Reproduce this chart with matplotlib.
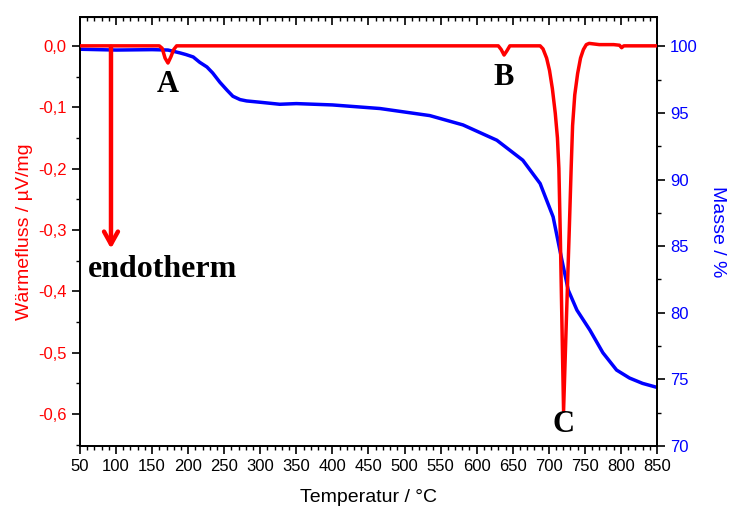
import matplotlib.pyplot as plt
from matplotlib.ticker import MultipleLocator, FuncFormatter

# DSC signal (heat flow, µV/mg) vs temperature
temp_dsc = [50, 160, 164, 168, 172, 176, 180, 184,
            630, 634, 638, 642, 646,
            688, 692, 697, 701, 705, 709, 712, 714, 716, 718.2, 720.5,
            724.3, 728.4, 731, 733, 736, 740, 744, 748, 752, 756,
            770, 790, 798, 801, 804, 820, 850]
heat_flow = [0.0, 0.0, -0.004, -0.02, -0.028, -0.018, -0.006, 0.0,
             0.0, -0.006, -0.015, -0.008, 0.0,
             0.0, -0.005, -0.02, -0.04, -0.07, -0.11, -0.15, -0.20, -0.31, -0.45, -0.595,
             -0.45, -0.30, -0.20, -0.13, -0.08, -0.045, -0.02, -0.006, 0.002, 0.004,
             0.002, 0.002, 0.001, -0.003, 0.0, 0.0, 0.0]

# TG signal (mass %) vs temperature
temp_tg = [50, 100, 150, 172, 180, 189, 197, 207, 216, 226, 234, 244, 254, 262, 272, 281,
           300, 327, 350, 400, 466, 535, 581, 628, 664, 688, 706, 718, 727,
           739, 757, 775, 794, 812, 830, 850]
mass = [99.78, 99.72, 99.75, 99.72, 99.62, 99.5, 99.38, 99.2, 98.8, 98.45, 98.0, 97.3, 96.7, 96.25, 96.0, 95.9,
        95.8, 95.65, 95.7, 95.6, 95.33, 94.8, 94.1, 92.95, 91.45, 89.7, 87.2, 84.0, 81.7,
        80.2, 78.7, 77.0, 75.7, 75.1, 74.7, 74.4]

peak_labels = ['A', 'B', 'C']
peak_pos = [(172, -0.063), (638, -0.052), (720, -0.617)]

fig = plt.figure(figsize=(7.29, 5.12), dpi=100)
ax = fig.add_axes([0.1097, 0.1289, 0.7915, 0.8379])
ax2 = ax.twinx()

ax.plot(temp_dsc, heat_flow, color='red', lw=2.5, zorder=3)
ax2.plot(temp_tg, mass, color='blue', lw=2.5)
ax.set_zorder(ax2.get_zorder() + 1)
ax.patch.set_visible(False)

ax.set_xlim(50, 850)
ax.set_ylim(-0.652, 0.047)
ax2.set_ylim(70, 102.2)

ax.xaxis.set_major_locator(MultipleLocator(50))
ax.xaxis.set_minor_locator(MultipleLocator(10))
ax.yaxis.set_major_locator(MultipleLocator(0.1))
ax.yaxis.set_minor_locator(MultipleLocator(0.05))
ax.yaxis.set_major_formatter(FuncFormatter(lambda v, p: f"{v:.1f}".replace('.', ',').replace('-0,0', '0,0')))
ax2.yaxis.set_major_locator(MultipleLocator(5))
ax2.yaxis.set_minor_locator(MultipleLocator(2.5))

ax.tick_params(axis='x', which='major', direction='out', length=6, width=1.2, labelsize=12)
ax.tick_params(axis='x', which='minor', direction='out', length=3, width=1)
ax.tick_params(axis='y', which='major', direction='out', length=6, width=1.2, labelsize=12, labelcolor='red')
ax.tick_params(axis='y', which='minor', direction='out', length=3, width=1)
ax2.tick_params(axis='y', which='major', direction='out', length=6, width=1.2, labelsize=12, labelcolor='blue')
ax2.tick_params(axis='y', which='minor', direction='out', length=3, width=1)
for lab in ax.get_xticklabels() + ax.get_yticklabels() + ax2.get_yticklabels():
    lab.set_family('Liberation Sans')

top = ax.secondary_xaxis('top')
top.xaxis.set_major_locator(MultipleLocator(50))
top.xaxis.set_minor_locator(MultipleLocator(10))
top.tick_params(which='major', direction='in', length=6, width=1.2, labeltop=False)
top.tick_params(which='minor', direction='in', length=3, width=1)

for a in (ax, ax2):
    for s in a.spines.values():
        s.set_linewidth(1.3)

ax.set_xlabel('Temperatur / °C', fontsize=14, family='Liberation Sans', labelpad=11)
ax.set_ylabel('Wärmefluss / µV/mg', fontsize=14, family='Liberation Sans', color='red', labelpad=4)
ax2.set_ylabel('Masse / %', fontsize=14, family='Liberation Sans', color='blue', rotation=270, labelpad=20)

# endotherm arrow
ax.annotate('', xy=(93, -0.335), xytext=(93, 0.003),
            arrowprops=dict(arrowstyle='->,head_length=0.9,head_width=0.5', color='red', lw=3.2))
ax.text(61, -0.365, 'endotherm', fontsize=23, family='Liberation Serif', weight='bold', va='center', ha='left')

for lab, (x, y) in zip(peak_labels, peak_pos):
    ax.text(x, y, lab, fontsize=22, family='Liberation Serif', weight='bold', ha='center', va='center')

fig.savefig('out.png', dpi=100)
